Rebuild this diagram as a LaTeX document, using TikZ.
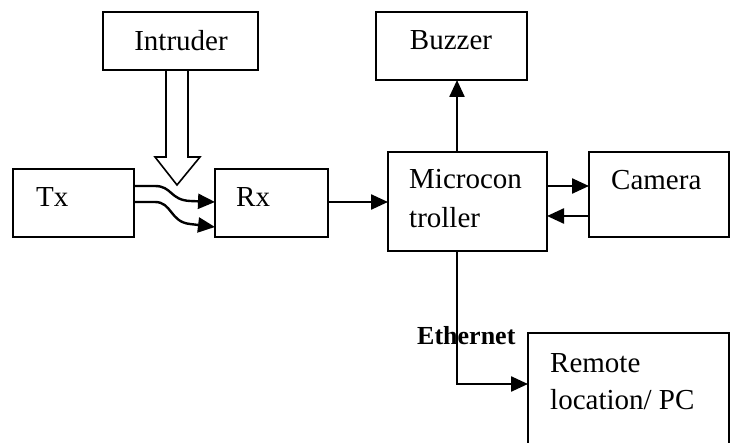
\documentclass[tikz,border=0pt]{standalone}
\usepackage{fontspec}
\setmainfont{Liberation Serif}
\usetikzlibrary{arrows.meta}
\begin{document}
\begin{tikzpicture}[x=1pt,y=-1pt,
  box/.style={draw, line width=2.1pt, rectangle, inner sep=0pt, outer sep=0pt},
  lbl/.style={inner sep=0pt, anchor=base west, font=\fontsize{29}{38}\selectfont},
  clbl/.style={inner sep=0pt, anchor=base, font=\fontsize{29}{38}\selectfont},
  arr/.style={line width=2.4pt, -{Triangle[length=17pt,width=15pt]}},
  hollow/.style={line width=1.6pt, line join=miter}]
\useasboundingbox (0,0) rectangle (735,443);
\clip (0,0) rectangle (735,443);
% boxes
\node[box, minimum width=155pt, minimum height=58pt] (intruder) at (180.5,41) {};
\node[box, minimum width=151pt, minimum height=68pt] (buzzer) at (451.5,46) {};
\node[box, minimum width=121pt, minimum height=68pt] (tx) at (73.5,203) {};
\node[box, minimum width=113pt, minimum height=68pt] (rx) at (271.5,203) {};
\node[box, minimum width=159pt, minimum height=99pt] (micro) at (467.5,201.5) {};
\node[box, minimum width=140pt, minimum height=85pt] (camera) at (659,194.5) {};
\node[box, minimum width=201pt, minimum height=147pt] (remote) at (628.5,406.5) {};
% texts
\node[clbl] (tintruder) at (181,51) {Intruder};
\node[clbl] (tbuzzer) at (451,50) {Buzzer};
\node[lbl] (ttx) at (36,207) {Tx};
\node[lbl] (trx) at (236,207) {Rx};
\node[lbl] (tmicro1) at (409,189) {Microcon};
\node[lbl] (tmicro2) at (409,228) {troller};
\node[lbl] (tcamera) at (611,190) {Camera};
\node[lbl] (tremote1) at (550,372) {Remote};
\node[lbl] (tremote2) at (550,409) {location/ PC};
\node[inner sep=0pt, anchor=base west, font=\fontsize{26}{30}\selectfont\bfseries] (teth) at (417,344) {Ethernet};
% coordinates
\coordinate (ia) at (177,0);
\coordinate (bx) at (457,0);
\coordinate (y186) at (0,186);
\coordinate (y202) at (0,202);
\coordinate (y227) at (0,227);
\coordinate (y216) at (0,216);
\coordinate (y384) at (0,384);
% intruder hollow arrow
\draw[hollow] (intruder.south -| ia) ++(-11,0) -- ++(0,87) -- ++(-11,0) -- ++(22,28) -- ++(23,-28) -- ++(-12,0) -- ++(0,-87);
% tx -> rx curved
\draw[arr] (tx.east |- y186) -- (155,186) .. controls (172,186) and (170,200) .. (190,201) -- (rx.west |- y202);
\draw[arr] (tx.east |- y202) -- (155,202) .. controls (172,202) and (170,222) .. (190,224) -- (rx.west |- y227);
% rx -> micro
\draw[arr] (rx.east |- y202) -- (micro.west |- y202);
% micro -> buzzer
\draw[arr] (micro.north -| bx) -- (buzzer.south -| bx);
% micro <-> camera
\draw[arr] (micro.east |- y186) -- (camera.west |- y186);
\draw[arr] (camera.west |- y216) -- (micro.east |- y216);
% micro -> remote
\draw[arr] (micro.south -| bx) |- (remote.west |- y384);
\end{tikzpicture}
\end{document}
